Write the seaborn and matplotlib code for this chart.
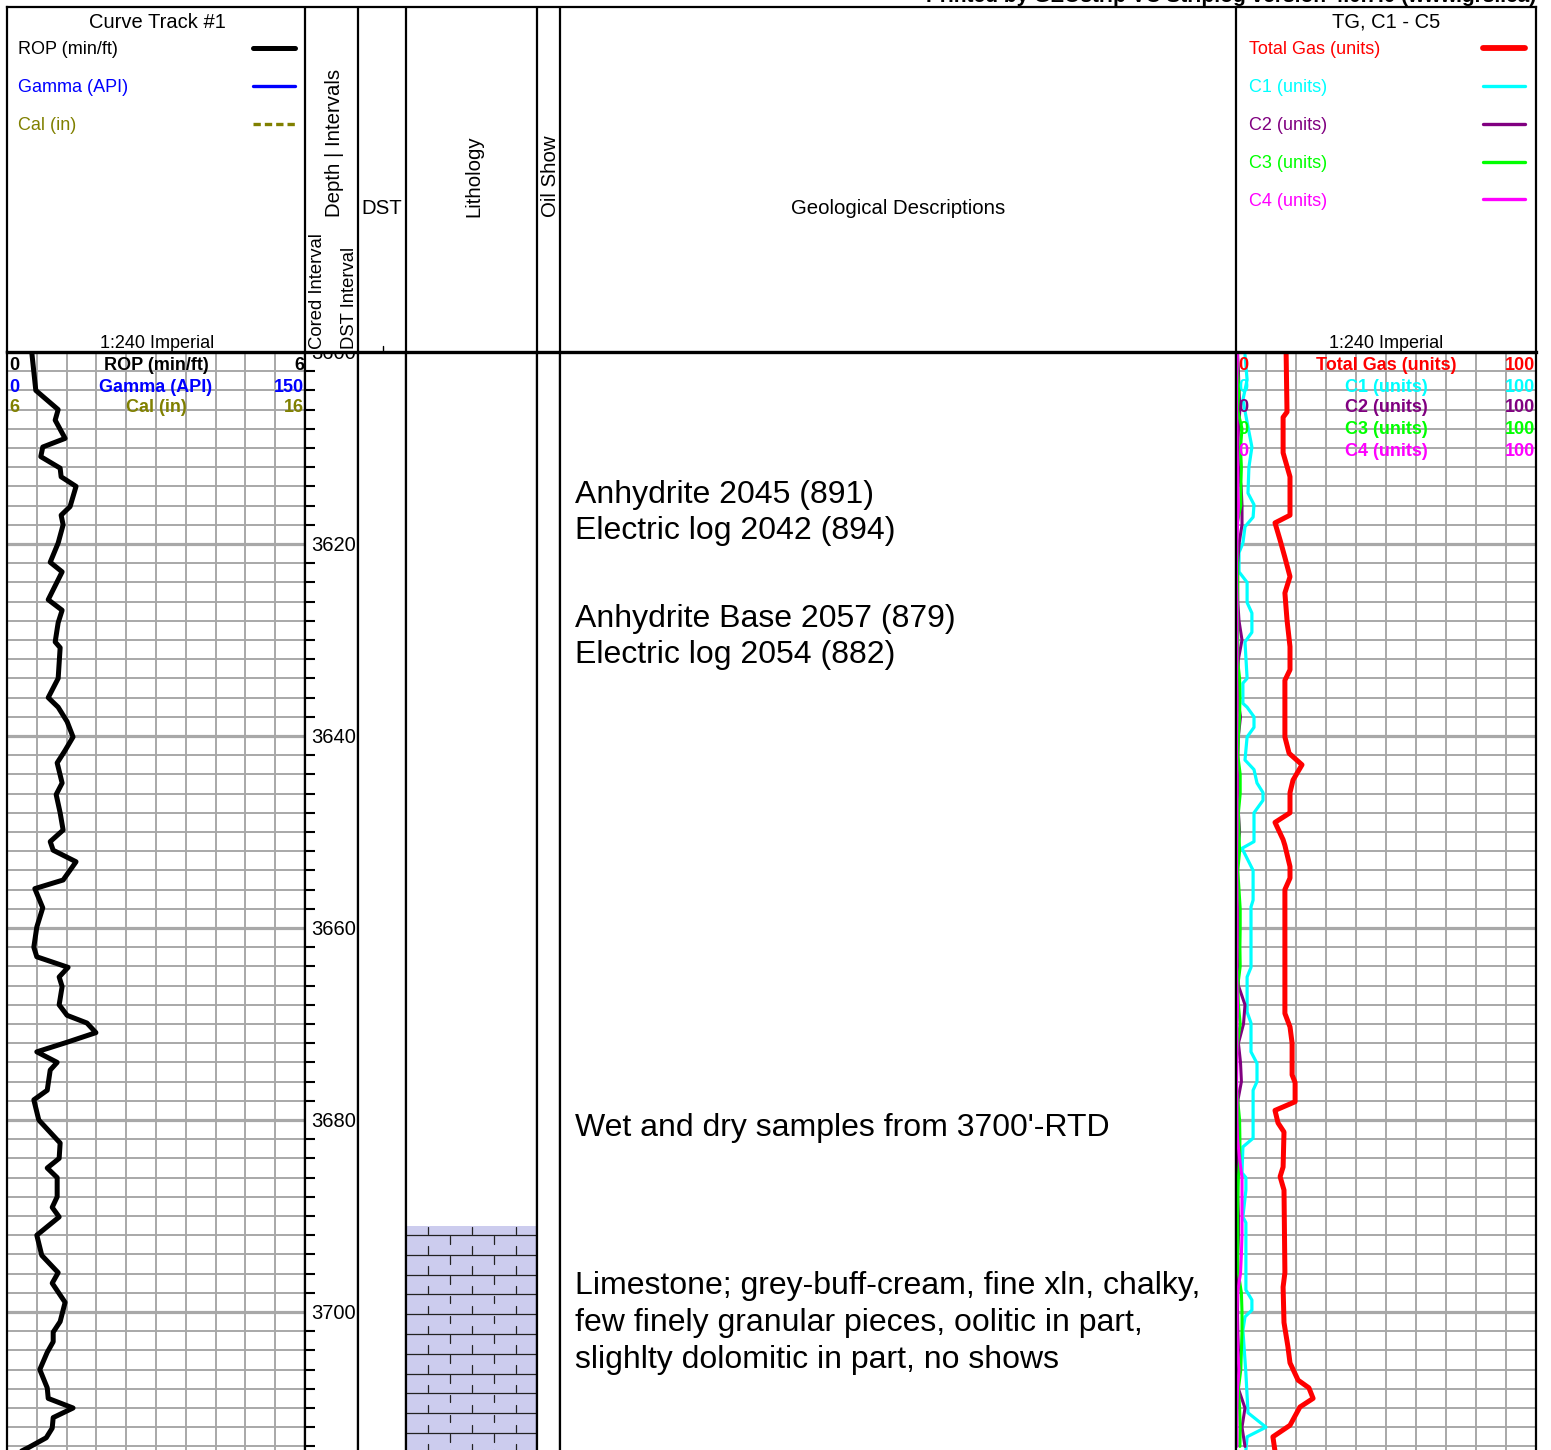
import numpy as np
import pandas as pd
import matplotlib
matplotlib.use("Agg")
import matplotlib.pyplot as plt
import matplotlib.transforms as mtransforms
from matplotlib.ticker import MultipleLocator
import seaborn as sns

# ------------------------------------------------------------------ data
rop_depth = [3600.1, 3604.0, 3606.0, 3607.1, 3609.0, 3609.9, 3610.9, 3612.1, 3613.0, 3614.0,
             3616.1, 3617.0, 3618.0, 3619.9, 3621.9, 3622.9, 3625.8, 3626.9, 3628.2, 3630.2,
             3630.8, 3634.0, 3636.0, 3637.0, 3638.5, 3640.1, 3641.5, 3642.8, 3644.9, 3646.1,
             3648.0, 3649.8, 3651.0, 3651.9, 3653.1, 3655.0, 3655.9, 3657.9, 3659.9, 3662.0,
             3663.0, 3664.1, 3665.1, 3666.1, 3668.0, 3669.1, 3669.9, 3670.9, 3671.9, 3672.9,
             3674.0, 3674.8, 3676.9, 3677.9, 3680.0, 3682.4, 3684.0, 3685.0, 3686.0, 3688.0,
             3689.1, 3690.1, 3692.0, 3694.1, 3695.9, 3697.0, 3699.0, 3701.0, 3702.1, 3703.1,
             3704.2, 3706.0, 3707.9, 3709.0, 3710.0, 3711.0, 3712.1, 3713.1, 3714.1, 3714.6]
rop_val = [0.50, 0.58, 1.03, 0.97, 1.17, 0.72, 0.68, 1.07, 1.09, 1.39,
           1.27, 1.09, 1.13, 1.03, 0.87, 1.11, 0.83, 1.11, 1.03, 0.97,
           1.07, 1.03, 0.83, 1.03, 1.21, 1.33, 1.17, 1.01, 1.11, 0.99,
           1.07, 1.13, 0.87, 0.93, 1.39, 1.13, 0.56, 0.72, 0.60, 0.54,
           0.60, 1.23, 1.05, 1.11, 1.05, 1.21, 1.61, 1.79, 1.21, 0.60,
           1.01, 0.87, 0.81, 0.54, 0.64, 1.07, 1.05, 0.81, 1.01, 1.01,
           0.91, 1.05, 0.60, 0.70, 1.03, 0.91, 1.17, 1.07, 0.93, 0.93,
           0.81, 0.66, 0.81, 0.83, 1.33, 0.93, 0.91, 0.79, 0.44, 0.25]

tg_depth = [3600.0, 3606.25, 3606.8, 3610.5, 3613.0, 3617.0, 3617.8, 3619.6, 3621.4, 3623.4,
            3625.1, 3627.9, 3630.7, 3633.1, 3634.2, 3640.1, 3641.8, 3643.0, 3644.6, 3645.9,
            3648.0, 3649.0, 3650.8, 3651.4, 3653.6, 3654.8, 3656.0, 3668.9, 3670.3, 3672.0,
            3675.3, 3676.1, 3678.1, 3679.0, 3680.3, 3681.25, 3684.9, 3685.9, 3687.3, 3695.9,
            3697.4, 3701.1, 3703.6, 3705.3, 3707.1, 3707.9, 3709.0, 3709.9, 3711.8, 3713.0, 3714.5]
tg_val = [16.7, 17.0, 15.7, 15.7, 18.0, 18.0, 13.0, 14.7, 16.3, 18.0,
          16.3, 17.0, 18.0, 18.0, 16.3, 16.3, 17.7, 22.0, 19.0, 18.0,
          18.0, 13.0, 15.7, 16.3, 18.0, 18.0, 16.3, 16.3, 18.0, 18.7,
          18.7, 19.7, 19.7, 13.0, 14.0, 16.0, 15.7, 14.7, 16.0, 16.3,
          15.7, 16.0, 17.3, 18.0, 20.7, 24.3, 25.7, 21.3, 18.0, 12.3, 13.0]

c1_depth = [3600.3, 3602.9, 3605.0, 3607.8, 3609.9, 3612.0, 3614.7, 3615.9, 3617.2, 3618.2,
            3619.9, 3620.9, 3622.9, 3624.0, 3626.1, 3627.2, 3629.2, 3630.2, 3634.0, 3634.5,
            3636.6, 3637.0, 3638.0, 3639.1, 3640.1, 3642.5, 3643.5, 3644.9, 3645.9, 3646.7,
            3648.0, 3651.0, 3651.7, 3654.0, 3657.1, 3657.8, 3664.1, 3665.1, 3668.75, 3669.9,
            3672.9, 3674.1, 3676.0, 3676.9, 3681.9, 3682.8, 3685.5, 3686.0, 3687.3, 3690.1,
            3690.7, 3697.7, 3698.75, 3699.8, 3700.5, 3701.9, 3706.4, 3710.5, 3712.0, 3713.0, 3714.4]
c1_val = [3.0, 3.7, 2.3, 4.0, 5.3, 4.3, 4.0, 6.0, 5.7, 3.0,
          2.3, 1.0, 1.0, 3.7, 3.7, 5.3, 5.3, 3.0, 3.7, 2.3,
          2.3, 3.7, 6.0, 6.0, 3.7, 3.0, 6.0, 7.0, 9.0, 9.0,
          6.0, 6.0, 2.0, 5.7, 5.7, 5.0, 5.0, 3.7, 3.7, 5.0,
          5.0, 7.0, 7.0, 5.7, 5.7, 2.3, 2.0, 3.3, 3.3, 2.3,
          3.3, 3.3, 5.3, 5.3, 3.0, 2.3, 3.3, 4.0, 10.0, 3.7, 3.3]

minor_depth = [3600, 3602, 3604, 3606, 3608, 3610, 3612, 3614, 3616, 3618,
               3620, 3622, 3624, 3626, 3628, 3630, 3632, 3634, 3636, 3638,
               3640, 3642, 3644, 3646, 3648, 3650, 3652, 3654, 3656, 3658,
               3660, 3662, 3664, 3666, 3668, 3670, 3672, 3674, 3676, 3678,
               3680, 3682, 3684, 3686, 3688, 3690, 3692, 3694, 3696, 3698,
               3700, 3702, 3704, 3706, 3708, 3710, 3712, 3714]
c2_val = [0.5, 0.8, 1.0, 1.3, 0.8, 0.6, 0.8, 1.7, 2.0, 2.0,
          1.0, 0.6, 0.5, 0.6, 1.0, 2.0, 0.8, 0.6, 0.5, 1.5,
          0.8, 0.6, 0.5, 0.6, 0.8, 1.2, 0.5, 0.5, 0.5, 0.6,
          0.5, 0.5, 0.6, 0.8, 3.0, 2.5, 0.8, 1.5, 1.8, 0.6,
          0.5, 0.6, 0.6, 0.5, 0.6, 0.8, 0.8, 0.6, 0.5, 0.6,
          0.5, 0.6, 0.8, 0.6, 0.8, 3.0, 2.0, 3.0]
c3_val = [0.3, 0.5, 1.0, 0.5, 2.0, 1.5, 1.8, 1.6, 1.6, 0.3,
          0.3, 0.5, 0.6, 0.5, 0.5, 0.6, 0.5, 1.2, 1.3, 1.2,
          0.8, 0.6, 1.4, 1.4, 0.8, 1.0, 1.2, 0.6, 1.0, 1.4,
          1.4, 1.3, 1.4, 0.6, 0.8, 1.4, 0.5, 0.0, 0.0, 0.6,
          1.2, 1.3, 1.3, 0.8, 0.6, 0.5, 0.6, 0.5, 0.8, 1.8,
          2.0, 2.0, 1.8, 1.6, 0.8, 1.2, 1.4, 1.3]
c4_val = [0.5, 0.3, 0.2, 0.2, 0.3, 0.3, 0.5, 0.6, 0.8, 0.5,
          0.3, 0.2, 0.2, 0.3, 0.3, 0.3, 0.3, 0.2, 0.3, 0.3,
          0.2, 0.2, 0.3, 0.3, 0.3, 0.3, 0.2, 0.2, 0.3, 0.3,
          0.3, 0.3, 0.2, 0.3, 0.5, 0.3, 0.3, 0.3, 0.2, 0.3,
          0.3, 0.5, 1.2, 2.0, 2.0, 2.0, 2.0, 1.8, 1.5, 0.5,
          0.3, 0.3, 0.5, 1.0, 0.5, 0.3, 0.3, 0.3]

desc_depth = [3614.9, 3618.6, 3627.8, 3631.55, 3680.8, 3697.3, 3701.15, 3705.0]
desc_text = ["Anhydrite 2045 (891)",
             "Electric log 2042 (894)",
             "Anhydrite Base 2057 (879)",
             "Electric log 2054 (882)",
             "Wet and dry samples from 3700'-RTD",
             "Limestone; grey-buff-cream, fine xln, chalky,",
             "few finely granular pieces, oolitic in part,",
             "slighlty dolomitic in part, no shows"]

litho_top = [3691.0]
litho_base = [3714.4]
litho_name = ["Limestone"]

depth_labels = [3600, 3620, 3640, 3660, 3680, 3700]

curve_names = ["ROP (min/ft)", "Gamma (API)", "Cal (in)"]
curve_min = ["0", "0", "6"]
curve_max = ["6", "150", "16"]
curve_colors = ["#000000", "#0000ff", "#808000"]

gas_names = ["Total Gas (units)", "C1 (units)", "C2 (units)", "C3 (units)", "C4 (units)"]
gas_min = ["0", "0", "0", "0", "0"]
gas_max = ["100", "100", "100", "100", "100"]
gas_colors = ["#ff0000", "#00ffff", "#800080", "#00ff00", "#ff00ff"]

# ------------------------------------------------------------------ style
sns.set_theme(style="white")
plt.rcParams["font.family"] = ["Liberation Sans", "DejaVu Sans"]
plt.rcParams["text.color"] = "black"

W, H = 1551, 1450
fig = plt.figure(figsize=(W / 100, H / 100), dpi=100)

HDR_TOP, HDR_BOT = 7, 352
TOP_D = 3600.0
PX_PER_FT = 9.6
BOT_D = TOP_D + (H - HDR_BOT) / PX_PER_FT
XC = [7, 305, 358, 406, 537, 560, 1236, 1536]
GRID = "#a8a8a8"


def frac(x0, y0, x1, y1):
    return [x0 / W, 1 - y1 / H, (x1 - x0) / W, (y1 - y0) / H]


def data_ax(x0, x1):
    ax = fig.add_axes(frac(x0, HDR_BOT, x1, H))
    ax.set_facecolor("white")
    for s in ["top", "bottom"]:
        ax.spines[s].set_visible(False)
    for s in ["left", "right"]:
        ax.spines[s].set_visible(True)
        ax.spines[s].set_color("black")
        ax.spines[s].set_linewidth(1.6)
    return ax


def finish(ax, xlim):
    ax.set_xlim(*xlim)
    ax.set_ylim(BOT_D, TOP_D)
    ax.set_xlabel("")
    ax.set_ylabel("")
    ax.tick_params(which="both", length=0, labelleft=False, labelbottom=False)


def grid_track(ax, xstep):
    ax.xaxis.set_major_locator(MultipleLocator(xstep))
    ax.yaxis.set_major_locator(MultipleLocator(20))
    ax.yaxis.set_minor_locator(MultipleLocator(2))
    ax.grid(which="major", axis="y", color=GRID, lw=2.3)
    ax.grid(which="minor", axis="y", color=GRID, lw=1.4)
    ax.grid(which="major", axis="x", color=GRID, lw=1.4)
    ax.set_axisbelow(True)


# ---------------- curve track
ax_c = data_ax(XC[0], XC[1])
sns.lineplot(x=rop_val, y=rop_depth, sort=False, estimator=None, ax=ax_c,
             color="black", lw=3.6)
finish(ax_c, (0, 6))
grid_track(ax_c, 0.6)
for i, (nm, lo, hi, col) in enumerate(zip(curve_names, curve_min, curve_max, curve_colors)):
    dy = [13, 35, 56][i]
    kw = dict(xycoords="axes fraction", textcoords="offset pixels", va="center",
              fontsize=13, fontweight="bold", color=col, zorder=6)
    ax_c.annotate(lo, xy=(0, 1), xytext=(2, -dy), ha="left", **kw)
    ax_c.annotate(nm, xy=(0.5, 1), xytext=(0, -dy), ha="center", **kw)
    ax_c.annotate(hi, xy=(1, 1), xytext=(-1, -dy), ha="right", **kw)

# ---------------- depth track
ax_d = data_ax(XC[1], XC[2])
ax_d.set_xlim(0, 1)
ax_d.set_ylim(BOT_D, TOP_D)
ax_d.yaxis.set_major_locator(MultipleLocator(20))
ax_d.yaxis.set_minor_locator(MultipleLocator(2))
ax_d.tick_params(which="major", length=0, labelleft=False)
ax_d.tick_params(which="minor", direction="in", length=7.5, width=1.5, color="black", left=True)
ax_d.tick_params(axis="x", length=0, labelbottom=False)
trd = mtransforms.blended_transform_factory(ax_d.transAxes, ax_d.transData)
off = mtransforms.ScaledTranslation(0, -1.5 / 100, fig.dpi_scale_trans)
for d in depth_labels:
    ax_d.text(6 / 53, d, str(d), transform=trd + off, ha="left", va="center",
              fontsize=14.5, color="black", clip_on=True)

# ---------------- DST / lithology / oil show
ax_dst = data_ax(XC[2], XC[3])
finish(ax_dst, (0, 1))
ax_l = data_ax(XC[3], XC[4])
finish(ax_l, (0, 1))
for top, base, nm in zip(litho_top, litho_base, litho_name):
    ax_l.fill_betweenx([top, base], 0, 1, color="#ccccee", lw=0, zorder=1)
    row = 2.0625
    first = top + 0.98
    ys = np.arange(first, base + row, row)
    for y in ys:
        if y <= base:
            ax_l.plot([0, 1], [y, y], color="#222222", lw=0.9, zorder=2)
        half = row / 2
        for xf in [44 / 131, 88 / 131]:
            ax_l.plot([xf, xf], [y + 0.15, min(y + half - 0.1, base)], color="#222222", lw=0.9, zorder=2)
        for xf in [22 / 131, 66 / 131, 110 / 131]:
            ax_l.plot([xf, xf], [y - half + 0.15, y - 0.1], color="#222222", lw=0.9, zorder=2)
finish(ax_l, (0, 1))
ax_o = data_ax(XC[4], XC[5])
finish(ax_o, (0, 1))

# ---------------- descriptions
ax_g = data_ax(XC[5], XC[6])
finish(ax_g, (0, 1))
trg = mtransforms.blended_transform_factory(ax_g.transAxes, ax_g.transData)
for d, t in zip(desc_depth, desc_text):
    ax_g.text(15 / 676, d, t, transform=trg, ha="left", va="center", fontsize=23, color="black")

# ---------------- gas track
ax_t = data_ax(XC[6], XC[7])
for vals, dep, col, lw in [(c1_val, c1_depth, gas_colors[1], 2.3),
                           (c2_val, minor_depth, gas_colors[2], 2.2),
                           (c3_val, minor_depth, gas_colors[3], 2.2),
                           (c4_val, minor_depth, gas_colors[4], 2.2),
                           (tg_val, tg_depth, gas_colors[0], 3.6)]:
    sns.lineplot(x=vals, y=dep, sort=False, estimator=None, ax=ax_t, color=col, lw=lw)
finish(ax_t, (0, 100))
grid_track(ax_t, 10)
for i, (nm, lo, hi, col) in enumerate(zip(gas_names, gas_min, gas_max, gas_colors)):
    dy = [13, 35, 56, 78, 100][i]
    kw = dict(xycoords="axes fraction", textcoords="offset pixels", va="center",
              fontsize=13, fontweight="bold", color=col, zorder=6)
    ax_t.annotate(lo, xy=(0, 1), xytext=(2, -dy), ha="left", **kw)
    ax_t.annotate(nm, xy=(0.5, 1), xytext=(0, -dy), ha="center", **kw)
    ax_t.annotate(hi, xy=(1, 1), xytext=(-1, -dy), ha="right", **kw)

# ---------------- header
hx = fig.add_axes(frac(XC[0], HDR_TOP, XC[7], HDR_BOT))
hx.set_xlim(XC[0], XC[7])
hx.set_ylim(HDR_BOT, HDR_TOP)
hx.set_xticks([])
hx.set_yticks([])
hx.set_facecolor("white")
for s in ["top", "left", "right"]:
    hx.spines[s].set_color("black")
    hx.spines[s].set_linewidth(1.6)
hx.spines["bottom"].set_color("black")
hx.spines["bottom"].set_linewidth(2.4)
for x in XC[1:-1]:
    hx.plot([x, x], [HDR_TOP, HDR_BOT], color="black", lw=1.6)
hx.plot([383, 383], [346, HDR_BOT], color="black", lw=1.0)

cx = (XC[0] + XC[1]) / 2 + 1
hx.text(cx, 22, "Curve Track #1", ha="center", va="center", fontsize=14.5, color="black")
hx.text(cx, 344, "1:240 Imperial", ha="center", va="center", fontsize=13, color="black")
leg_y = [50, 88, 126, 164, 201]
line_y = [48, 86, 124, 162, 199]
styles = [dict(lw=3.6), dict(lw=2.4), dict(lw=2.4, dashes=(2.2, 1.2))]
for i, (nm, col) in enumerate(zip(curve_names, curve_colors)):
    hx.text(18, leg_y[i], nm, ha="left", va="center", fontsize=13, color=col)
    hx.plot([253, 295], [line_y[i], line_y[i]], color=col, solid_capstyle="round", **styles[i])

gx = (XC[6] + XC[7]) / 2
hx.text(gx, 22, "TG, C1 - C5", ha="center", va="center", fontsize=14.5, color="black")
hx.text(gx, 344, "1:240 Imperial", ha="center", va="center", fontsize=13, color="black")
for i, (nm, col) in enumerate(zip(gas_names, gas_colors)):
    hx.text(1249, leg_y[i], nm, ha="left", va="center", fontsize=13, color=col)
    hx.plot([1483, 1525], [line_y[i], line_y[i]], color=col, solid_capstyle="round",
            lw=4.2 if i == 0 else 2.4)

hx.text(334, 217, "Depth | Intervals", rotation=90, ha="center", va="bottom", fontsize=14.7, color="black")
hx.text(317, 349, "Cored Interval", rotation=90, ha="center", va="bottom", fontsize=13.3, color="black")
hx.text(349, 349, "DST Interval", rotation=90, ha="center", va="bottom", fontsize=13.3, color="black")
hx.text(382, 209, "DST", ha="center", va="center", fontsize=14.7, color="black")
hx.text(474, 217, "Lithology", rotation=90, ha="center", va="bottom", fontsize=14.7, color="black")
hx.text(550, 217, "Oil Show", rotation=90, ha="center", va="bottom", fontsize=14.7, color="black")
hx.text(898, 209, "Geological Descriptions", ha="center", va="center", fontsize=14.7, color="black")

fig.text(1536 / W, 1 - 2 / H, "Printed by GEOstrip VC Striplog version 4.0.7.0 (www.grsi.ca)",
         ha="right", va="baseline", fontsize=15, fontweight="bold", color="black")

fig.savefig("out.png", dpi=100)
